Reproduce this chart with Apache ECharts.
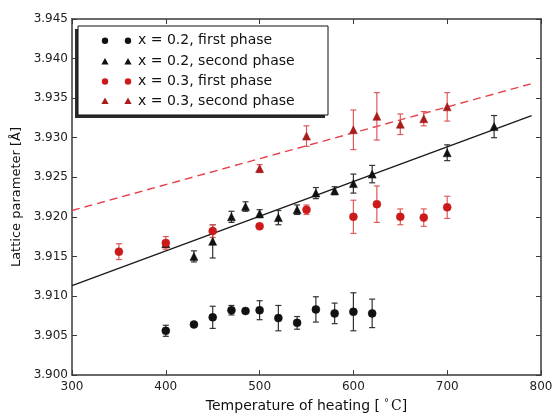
<!DOCTYPE html>
<html>
<head>
<meta charset="utf-8">
<script src="https://cdn.jsdelivr.net/npm/echarts@6/dist/echarts.min.js"></script>
<style>
  html, body { margin: 0; padding: 0; background: #fff; }
  #chart { width: 556px; height: 418px; }
</style>
</head>
<body>
<div id="chart"></div>
<script>
// Lattice parameter vs heating temperature, two compositions, two phases each.
const xTicks = [300, 400, 500, 600, 700, 800];
const yTicks = [3.900, 3.905, 3.910, 3.915, 3.920, 3.925, 3.930, 3.935, 3.940, 3.945];

// x = 0.2, first phase
const temps02a = [400, 430, 450, 470, 485, 500, 520, 540, 560, 580, 600, 620];
const vals02a  = [3.9056, 3.9064, 3.9073, 3.9082, 3.9081, 3.9082, 3.9072, 3.9066, 3.9083, 3.9078, 3.9080, 3.9078];
const errs02a  = [0.0007, 0, 0.0014, 0.0006, 0, 0.0012, 0.0016, 0.0008, 0.0016, 0.0013, 0.0024, 0.0018];

// x = 0.2, second phase
const temps02b = [400, 430, 450, 470, 485, 500, 520, 540, 560, 580, 600, 620, 700, 750];
const vals02b  = [3.9166, 3.9150, 3.9169, 3.9200, 3.9213, 3.9204, 3.9199, 3.9209, 3.9230, 3.9233, 3.9242, 3.9254, 3.9281, 3.9314];
const errs02b  = [0.0004, 0.0007, 0.0021, 0.0007, 0.0006, 0.0005, 0.0009, 0.0006, 0.0007, 0.0005, 0.0012, 0.0011, 0.0010, 0.0014];

// x = 0.3, first phase
const temps03a = [350, 400, 450, 500, 550, 600, 625, 650, 675, 700];
const vals03a  = [3.9156, 3.9167, 3.9182, 3.9188, 3.9209, 3.9200, 3.9216, 3.9200, 3.9199, 3.9212];
const errs03a  = [0.0010, 0.0008, 0.0008, 0, 0.0006, 0.0021, 0.0023, 0.0010, 0.0011, 0.0014];

// x = 0.3, second phase
const temps03b = [500, 550, 600, 625, 650, 675, 700];
const vals03b  = [3.9261, 3.9302, 3.9310, 3.9327, 3.9317, 3.9324, 3.9339];
const errs03b  = [0.0005, 0.0013, 0.0025, 0.0030, 0.0013, 0.0009, 0.0018];

// Linear fits of the second phases (end points)
const fit02x = [300, 790];
const fit02y = [3.9113, 3.9328];
const fit03x = [300, 789];
const fit03y = [3.9208, 3.9368];

const legendLabels = [
  'x = 0.2, first phase',
  'x = 0.2, second phase',
  'x = 0.3, first phase',
  'x = 0.3, second phase'
];

const FONT = 'DejaVu Sans';
const BLACK = '#111111';
const RED = '#cc1a1a';
const RED_DARK = '#a81c1c';
const RED_BAR = '#e05a5a';
const BLACK_BAR = '#333333';

function points(xs, ys) { return xs.map((x, i) => [x, ys[i]]); }
function bars(xs, ys, es) {
  return xs.map((x, i) => [x, ys[i] - es[i], ys[i] + es[i], es[i]]);
}

function errorSeries(xs, ys, es, color) {
  return {
    type: 'custom',
    z: 2,
    silent: true,
    clip: true,
    data: bars(xs, ys, es),
    renderItem: function (params, api) {
      if (api.value(3) <= 0) return null;
      const x = api.value(0);
      const p1 = api.coord([x, api.value(1)]);
      const p2 = api.coord([x, api.value(2)]);
      const cw = 3;
      const st = { stroke: color, lineWidth: 1.2 };
      return {
        type: 'group',
        children: [
          { type: 'line', shape: { x1: p1[0], y1: p1[1], x2: p2[0], y2: p2[1] }, style: st },
          { type: 'line', shape: { x1: p1[0] - cw, y1: p1[1], x2: p1[0] + cw, y2: p1[1] }, style: st },
          { type: 'line', shape: { x1: p2[0] - cw, y1: p2[1], x2: p2[0] + cw, y2: p2[1] }, style: st }
        ]
      };
    }
  };
}

function scatterSeries(name, xs, ys, symbol, color, size) {
  return {
    name: name,
    type: 'scatter',
    z: 3,
    symbol: symbol,
    symbolSize: size,
    data: points(xs, ys),
    itemStyle: { color: color, opacity: 1, borderColor: color, borderWidth: 0.5 },
    emphasis: { disabled: true }
  };
}

function fitSeries(xs, ys, color, type) {
  return {
    type: 'line',
    z: 1,
    silent: true,
    symbol: 'none',
    data: points(xs, ys),
    lineStyle: { color: color, width: 1.4, type: type },
    emphasis: { disabled: true }
  };
}

// Legend box drawn as graphics
const legX = 78, legY = 26, legW = 250, legH = 89;
const rowY = [40.7, 61.5, 81.5, 101];
const mark1X = 105, mark2X = 128, textX = 138;
const legendMarkers = [
  { shape: 'circle', color: BLACK },
  { shape: 'triangle', color: BLACK },
  { shape: 'circle', color: RED },
  { shape: 'triangle', color: RED_DARK }
];

function legendMarker(kind, cx, cy, color) {
  if (kind === 'circle') {
    return { type: 'circle', shape: { cx: cx, cy: cy, r: 3.2 }, style: { fill: color }, z: 102 };
  }
  const s = 3.6;
  return {
    type: 'polygon',
    shape: { points: [[cx, cy - s], [cx + s, cy + s * 0.8], [cx - s, cy + s * 0.8]] },
    style: { fill: color },
    z: 102
  };
}

const legendGraphics = [
  { type: 'rect', shape: { x: legX - 3, y: legY + 3, width: legW, height: legH }, style: { fill: '#2a2a2a' }, z: 100 },
  { type: 'rect', shape: { x: legX, y: legY, width: legW, height: legH }, style: { fill: '#ffffff', stroke: '#111', lineWidth: 1 }, z: 101 }
];
legendLabels.forEach((label, i) => {
  const m = legendMarkers[i];
  legendGraphics.push(legendMarker(m.shape, mark1X, rowY[i], m.color));
  legendGraphics.push(legendMarker(m.shape, mark2X, rowY[i], m.color));
  legendGraphics.push({
    type: 'text', z: 102,
    style: {
      x: textX, y: rowY[i], text: label,
      font: '14px "' + FONT + '"', fill: '#111',
      verticalAlign: 'middle', align: 'left'
    }
  });
});

const axisLine = { show: true, lineStyle: { color: '#3a3a3a', width: 1.5 } };
const tickStyle = { show: true, inside: true, length: 5, lineStyle: { color: '#3a3a3a', width: 1 } };
const labelStyle = { fontFamily: FONT, fontSize: 12, color: '#222' };

const xMin = xTicks[0], xMax = xTicks[xTicks.length - 1], xStep = xTicks[1] - xTicks[0];
const yMin = yTicks[0], yMax = yTicks[yTicks.length - 1], yStep = 0.005;

const chart = echarts.init(document.getElementById('chart'), null, { renderer: 'canvas' });
chart.setOption({
  animation: false,
  backgroundColor: '#ffffff',
  grid: { left: 72, right: 15, top: 19, bottom: 36, containLabel: false },
  xAxis: [
    {
      type: 'value', min: xMin, max: xMax, interval: xStep,
      position: 'bottom',
      axisLine: axisLine, axisTick: tickStyle, splitLine: { show: false },
      axisLabel: Object.assign({ margin: 6 }, labelStyle),
      name: '{a|Temperature of heating [}{d|°}{c|C}{a|]}',
      nameLocation: 'middle',
      nameGap: 21,
      nameTextStyle: {
        rich: {
          a: { fontFamily: FONT, fontSize: 14, color: '#111' },
          d: { fontFamily: FONT, fontSize: 10, color: '#111', verticalAlign: 'top', padding: [0, 2, 6, 4] },
          c: { fontFamily: 'DejaVu Serif', fontSize: 14, color: '#111' }
        }
      }
    },
    {
      type: 'value', min: xMin, max: xMax, interval: xStep,
      position: 'top',
      axisLine: axisLine, axisTick: tickStyle, splitLine: { show: false },
      axisLabel: { show: false }
    }
  ],
  yAxis: [
    {
      type: 'value', min: yMin, max: yMax, interval: yStep,
      position: 'left',
      axisLine: axisLine, axisTick: tickStyle, splitLine: { show: false },
      axisLabel: Object.assign({ margin: 4, formatter: v => v.toFixed(3) }, labelStyle),
      name: 'Lattice parameter [Å]',
      nameLocation: 'middle',
      nameGap: 45,
      nameTextStyle: { fontFamily: FONT, fontSize: 13, color: '#111' }
    },
    {
      type: 'value', min: yMin, max: yMax, interval: yStep,
      position: 'right',
      axisLine: axisLine, axisTick: tickStyle, splitLine: { show: false },
      axisLabel: { show: false }
    }
  ],
  graphic: legendGraphics,
  series: [
    fitSeries(fit02x, fit02y, '#1a1a1a', 'solid'),
    fitSeries(fit03x, fit03y, '#e8404a', [8, 5]),
    errorSeries(temps02a, vals02a, errs02a, BLACK_BAR),
    errorSeries(temps02b, vals02b, errs02b, BLACK_BAR),
    errorSeries(temps03a, vals03a, errs03a, RED_BAR),
    errorSeries(temps03b, vals03b, errs03b, RED_BAR),
    scatterSeries(legendLabels[0], temps02a, vals02a, 'circle', BLACK, 8),
    scatterSeries(legendLabels[1], temps02b, vals02b, 'triangle', BLACK, 8),
    scatterSeries(legendLabels[2], temps03a, vals03a, 'circle', RED, 8),
    scatterSeries(legendLabels[3], temps03b, vals03b, 'triangle', RED_DARK, 8)
  ]
});
</script>
</body>
</html>
